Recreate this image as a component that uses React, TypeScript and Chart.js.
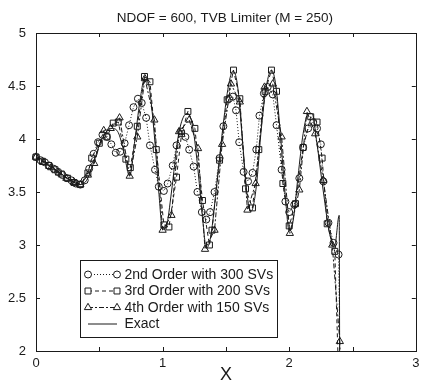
import React, { useEffect, useRef } from "react";
import { Chart, registerables } from "chart.js";

Chart.register(...registerables);

const TITLE = "NDOF = 600, TVB Limiter (M = 250)";
const X_TITLE = "X";
const X_MIN = 0;
const X_MAX = 3;
const Y_MIN = 2;
const Y_MAX = 5;
const X_TICKS = [0, 1, 2, 3];
const LABELS = [
  "2nd Order with 300 SVs",
  "3rd Order with 200 SVs",
  "4th Order with 150 SVs",
  "Exact",
];

// [x, density]
const order2: number[][] = [
  [0.0, 3.83], [0.035, 3.8], [0.07, 3.78], [0.105, 3.75], [0.14, 3.72], [0.175, 3.69],
  [0.21, 3.66], [0.245, 3.63], [0.28, 3.61], [0.315, 3.58], [0.35, 3.57], [0.385, 3.61],
  [0.42, 3.72], [0.455, 3.86], [0.49, 3.97], [0.525, 4.04], [0.56, 4.02], [0.595, 3.95],
  [0.63, 3.87], [0.665, 3.88], [0.7, 3.96], [0.735, 4.13], [0.77, 4.3], [0.805, 4.38],
  [0.835, 4.34], [0.87, 4.2], [0.9, 3.94], [0.94, 3.71], [0.97, 3.55], [1.01, 3.51],
  [1.04, 3.58], [1.08, 3.75], [1.11, 3.94], [1.145, 4.07], [1.18, 4.02], [1.21, 3.9],
  [1.245, 3.74], [1.275, 3.5], [1.31, 3.31], [1.345, 3.24], [1.375, 3.31], [1.41, 3.5],
  [1.45, 3.82], [1.48, 4.12], [1.525, 4.38], [1.555, 4.4], [1.58, 4.27], [1.605, 3.97],
  [1.64, 3.69], [1.675, 3.6], [1.71, 3.68], [1.74, 3.9], [1.765, 4.22], [1.8, 4.43],
  [1.83, 4.49], [1.87, 4.42], [1.9, 4.13], [1.94, 3.71], [1.97, 3.41], [2.0, 3.31],
  [2.04, 3.38], [2.08, 3.63], [2.11, 3.92], [2.15, 4.1], [2.19, 4.16], [2.22, 4.1],
  [2.25, 3.95], [2.27, 3.6], [2.31, 3.21], [2.35, 3.02], [2.39, 2.91], [2.41, 1.0],
];

const order3: number[][] = [
  [0.0, 3.83], [0.05, 3.79], [0.1, 3.75], [0.15, 3.71], [0.2, 3.67], [0.25, 3.63],
  [0.3, 3.59], [0.35, 3.57], [0.41, 3.68], [0.44, 3.82], [0.5, 3.96], [0.56, 4.02],
  [0.61, 4.15], [0.65, 4.16], [0.71, 3.81], [0.745, 3.73], [0.8, 4.12], [0.857, 4.59],
  [0.9, 4.54], [0.95, 3.9], [1.01, 3.19], [1.05, 3.17], [1.11, 3.64], [1.15, 4.05],
  [1.2, 4.26], [1.255, 4.1], [1.315, 3.42], [1.37, 3.0], [1.39, 3.14], [1.45, 3.8],
  [1.51, 4.37], [1.56, 4.65], [1.61, 4.38], [1.655, 3.53], [1.71, 3.35], [1.76, 3.9],
  [1.81, 4.45], [1.86, 4.65], [1.9, 4.45], [1.95, 3.58], [2.0, 3.18], [2.05, 3.39],
  [2.11, 3.92], [2.17, 4.21], [2.22, 4.16], [2.26, 3.82], [2.3, 3.2], [2.36, 2.94],
  [2.41, 1.0],
];

const order4: number[][] = [
  [0.0, 3.83], [0.06, 3.78], [0.12, 3.73], [0.18, 3.68], [0.24, 3.63], [0.3, 3.59],
  [0.35, 3.57], [0.41, 3.66], [0.46, 3.77], [0.535, 4.08], [0.59, 4.1], [0.66, 4.2],
  [0.74, 3.65], [0.8, 4.02], [0.86, 4.57], [0.935, 4.18], [1.0, 3.14], [1.07, 3.28],
  [1.13, 4.07], [1.21, 4.18], [1.28, 3.91], [1.335, 2.96], [1.41, 3.14], [1.47, 3.95],
  [1.54, 4.52], [1.61, 4.35], [1.67, 3.33], [1.735, 3.58], [1.805, 4.49], [1.87, 4.52],
  [1.94, 4.02], [2.005, 3.11], [2.08, 3.52], [2.14, 4.26], [2.205, 4.05], [2.27, 3.61],
  [2.34, 3.0], [2.4, 2.09], [2.41, 1.0],
];

const exact: number[][] = [
  [0.0, 3.84], [0.1, 3.76], [0.2, 3.67], [0.3, 3.59], [0.35, 3.57], [0.4, 3.61],
  [0.45, 3.76], [0.5, 3.94], [0.55, 4.06], [0.6, 4.1], [0.65, 4.06], [0.69, 3.9],
  [0.74, 3.65], [0.78, 3.98], [0.82, 4.35], [0.86, 4.58], [0.89, 4.52], [0.93, 4.1],
  [0.97, 3.5], [1.0, 3.15], [1.03, 3.18], [1.07, 3.5], [1.12, 4.0], [1.17, 4.22],
  [1.2, 4.24], [1.24, 4.1], [1.28, 3.7], [1.32, 3.2], [1.345, 2.97], [1.38, 3.08],
  [1.43, 3.6], [1.48, 4.15], [1.52, 4.5], [1.555, 4.64], [1.59, 4.52], [1.63, 4.0],
  [1.67, 3.45], [1.7, 3.32], [1.74, 3.55], [1.78, 4.1], [1.82, 4.5], [1.86, 4.65],
  [1.895, 4.5], [1.93, 4.05], [1.97, 3.45], [2.0, 3.13], [2.03, 3.22], [2.07, 3.65],
  [2.11, 4.05], [2.15, 4.24], [2.18, 4.24], [2.22, 3.95], [2.27, 3.5], [2.32, 3.1],
  [2.36, 3.0], [2.395, 3.28], [2.4, 1.0],
];

const FONT = "'Liberation Sans', Arial, Helvetica, sans-serif";
const INK = "#1a1a1a";

const toXY = (arr: number[][]) => arr.map(([x, y]) => ({ x, y }));

function drawMarker(ctx: CanvasRenderingContext2D, style: string, r: number, x: number, y: number) {
  ctx.beginPath();
  if (style === "circle") {
    ctx.arc(x, y, r, 0, Math.PI * 2);
  } else if (style === "rect") {
    const s = r * Math.SQRT1_2;
    ctx.rect(x - s, y - s, 2 * s, 2 * s);
  } else if (style === "triangle") {
    ctx.moveTo(x, y - r);
    ctx.lineTo(x + r * Math.cos(Math.PI / 6), y + r * 0.5);
    ctx.lineTo(x - r * Math.cos(Math.PI / 6), y + r * 0.5);
    ctx.closePath();
  }
  ctx.fill();
  ctx.stroke();
}

const framePlugin = {
  id: "frameTicksLegend",
  afterDraw(chart: any) {
    const { ctx, chartArea: a, scales } = chart;
    const xs = scales.x;
    const ys = scales.y;
    ctx.save();
    ctx.strokeStyle = INK;
    ctx.lineWidth = 1;
    ctx.setLineDash([]);
    // frame
    ctx.strokeRect(Math.round(a.left) + 0.5, Math.round(a.top) + 0.5,
      Math.round(a.right - a.left), Math.round(a.bottom - a.top));
    // inward ticks
    ctx.beginPath();
    for (let v = X_MIN; v <= X_MAX + 1e-9; v += 0.5) {
      const px = Math.round(xs.getPixelForValue(v)) + 0.5;
      ctx.moveTo(px, a.bottom);
      ctx.lineTo(px, a.bottom - 4);
      ctx.moveTo(px, a.top);
      ctx.lineTo(px, a.top + 4);
    }
    for (let v = Y_MIN; v <= Y_MAX + 1e-9; v += 0.5) {
      const py = Math.round(ys.getPixelForValue(v)) + 0.5;
      ctx.moveTo(a.left, py);
      ctx.lineTo(a.left + 4, py);
      ctx.moveTo(a.right, py);
      ctx.lineTo(a.right - 4, py);
    }
    ctx.stroke();

    // x tick labels, placed by the x scale
    ctx.fillStyle = INK;
    ctx.font = `13px ${FONT}`;
    ctx.textAlign = "center";
    ctx.textBaseline = "middle";
    X_TICKS.forEach((v) => {
      ctx.fillText(String(v), xs.getPixelForValue(v), a.bottom + 12);
    });

    // title
    ctx.font = `13.5px ${FONT}`;
    ctx.fillText(TITLE, (a.left + a.right) / 2 - 1, 18);

    // legend
    const bx = 80.5, by = 260.5, bw = 197, bh = 77;
    ctx.fillStyle = "#fff";
    ctx.fillRect(bx, by, bw, bh);
    ctx.strokeStyle = INK;
    ctx.strokeRect(bx, by, bw, bh);
    const rows = [274.5, 291, 307.5, 324];
    chart.data.datasets.forEach((ds: any, i: number) => {
      const y = rows[i];
      const x0 = 88, x1 = 117;
      ctx.save();
      ctx.strokeStyle = INK;
      ctx.lineWidth = 1;
      ctx.setLineDash(ds.borderDash || []);
      ctx.beginPath();
      ctx.moveTo(x0, y);
      ctx.lineTo(x1, y);
      ctx.stroke();
      ctx.setLineDash([]);
      if (ds.pointRadius > 0) {
        ctx.fillStyle = "#fff";
        drawMarker(ctx, ds.pointStyle, ds.pointRadius, x0, y);
        drawMarker(ctx, ds.pointStyle, ds.pointRadius, x1, y);
      }
      ctx.restore();
      ctx.fillStyle = INK;
      ctx.font = `14px ${FONT}`;
      ctx.textAlign = "left";
      ctx.textBaseline = "middle";
      ctx.fillText(ds.label, 124.5, y + 0.5);
    });
    ctx.restore();
  },
};

export default function App() {
  const ref = useRef<HTMLCanvasElement | null>(null);

  useEffect(() => {
    document.body.style.margin = "0";
    const canvas = ref.current;
    if (!canvas) return;
    const common = {
      borderColor: INK,
      borderWidth: 1,
      pointBorderColor: INK,
      pointBackgroundColor: "rgba(255,255,255,0)",
      pointBorderWidth: 1,
      pointHoverRadius: 0,
      tension: 0,
      clip: { left: 6, top: 6, right: 6, bottom: 0 },
    };
    const chart = new Chart(canvas, {
      type: "line",
      data: {
        datasets: [
          {
            ...common,
            label: LABELS[0],
            data: toXY(order2),
            borderDash: [1, 2],
            pointStyle: "circle",
            pointRadius: 3.5,
          },
          {
            ...common,
            label: LABELS[1],
            data: toXY(order3),
            borderDash: [4, 3],
            pointStyle: "rect",
            pointRadius: 4.2,
          },
          {
            ...common,
            label: LABELS[2],
            data: toXY(order4),
            borderDash: [5, 2, 2, 2],
            pointStyle: "triangle",
            pointRadius: 4.2,
          },
          {
            ...common,
            label: LABELS[3],
            data: toXY(exact),
            pointStyle: "circle",
            pointRadius: 0,
            cubicInterpolationMode: "monotone",
          },
        ],
      } as any,
      options: {
        animation: false,
        responsive: false,
        maintainAspectRatio: false,
        events: [],
        layout: { padding: { top: 33, right: 3, left: 0, bottom: 0 } },
        plugins: {
          legend: { display: false },
          title: { display: false },
          tooltip: { enabled: false },
        },
        scales: {
          x: {
            type: "linear",
            min: X_MIN,
            max: X_MAX,
            grid: { display: false, drawTicks: false },
            border: { display: false },
            ticks: { display: false, stepSize: 1 },
            title: {
              display: true,
              text: X_TITLE,
              color: INK,
              font: { family: FONT, size: 18, lineHeight: 1.1 },
              padding: { top: 0, bottom: 0 },
            },
            afterFit: (s: any) => {
              s.height = 34;
            },
          },
          y: {
            type: "linear",
            min: Y_MIN,
            max: Y_MAX,
            grid: { display: false, drawTicks: false },
            border: { display: false },
            ticks: {
              stepSize: 0.5,
              padding: 10,
              color: INK,
              font: { family: FONT, size: 13 },
              callback: (v: any) => String(v),
            },
            afterFit: (s: any) => {
              s.width = 36;
            },
          },
        },
      } as any,
      plugins: [framePlugin],
    });
    return () => chart.destroy();
  }, []);

  return (
    <div style={{ position: "absolute", left: 0, top: 0, width: 421, height: 385, background: "#fff" }}>
      <canvas ref={ref} width={421} height={385} style={{ display: "block", width: 421, height: 385 }} />
    </div>
  );
}
